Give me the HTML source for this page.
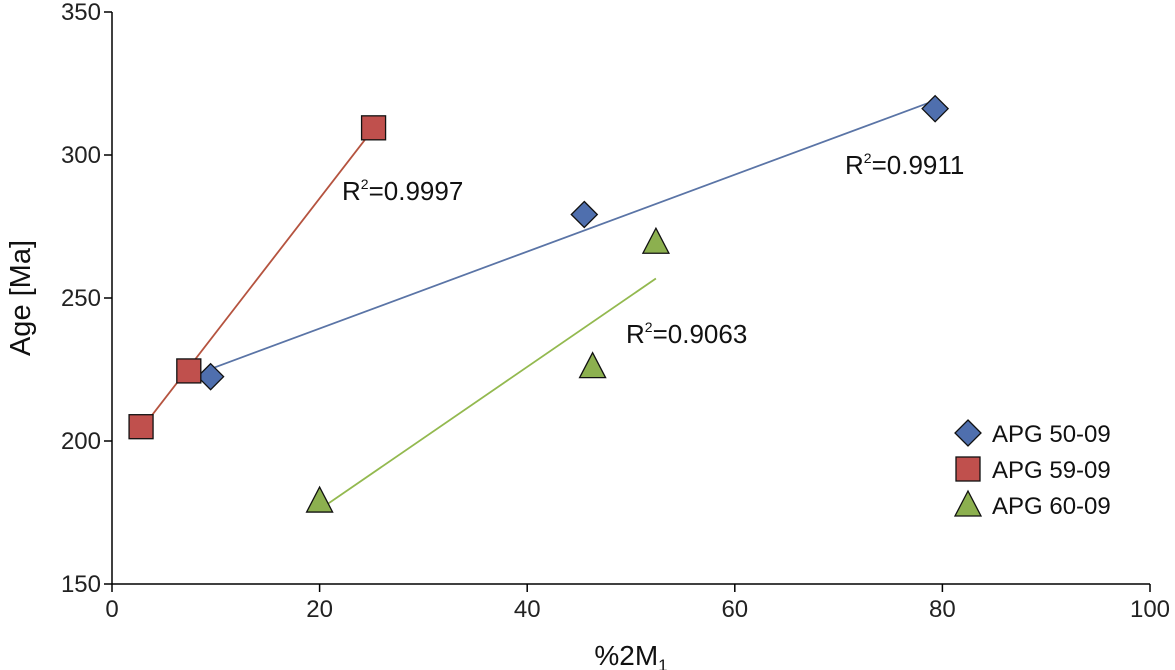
<!DOCTYPE html>
<html><head><meta charset="utf-8"><style>
html,body{margin:0;padding:0;background:#fff;}
svg{display:block;font-family:"Liberation Sans",sans-serif;}
</style></head><body>
<svg id="chart" width="1175" height="670"></svg>
<script>
const xTicks=[0,20,40,60,80,100];
const yTicks=[150,200,250,300,350];
const s1x=[9.5,45.5,79.3], s1y=[222.5,279.2,316.2];
const s2x=[2.8,7.4,25.2], s2y=[205,224.5,309.5];
const s3x=[20,46.3,52.4], s3y=[179,226,269.5];
const r2Labels=["R2=0.9911","R2=0.9997","R2=0.9063"];
const legendNames=["APG 50-09","APG 59-09","APG 60-09"];

const X0=112,X1=1150,Y0=584,Y1=12;
const sx=v=>X0+(v-0)/100*(X1-X0);
const sy=v=>Y0-(v-150)/200*(Y0-Y1);
const svg=document.getElementById('chart');
const NS='http://www.w3.org/2000/svg';
function mk(tag,attrs,parent){const e=document.createElementNS(NS,tag);for(const k in attrs)e.setAttribute(k,attrs[k]);(parent||svg).appendChild(e);return e;}

let e=mk('line',{x1:X0,y1:Y1,x2:X0,y2:Y0,stroke:'#000','stroke-width':1.5});


e=mk('line',{x1:X0,y1:Y0,x2:X1,y2:Y0,stroke:'#000','stroke-width':1.5});


yTicks.forEach(t=>{
 mk('line',{x1:X0-8,y1:sy(t),x2:X0,y2:sy(t),stroke:'#000','stroke-width':1.5});
 const l=mk('text',{x:X0-11,y:sy(t)+8,'text-anchor':'end','font-size':24,fill:'#222'});
 l.textContent=t;
 
 
});
xTicks.forEach(t=>{
 mk('line',{x1:sx(t),y1:Y0,x2:sx(t),y2:Y0+8,stroke:'#000','stroke-width':1.5});
 const l=mk('text',{x:sx(t),y:Y0+33,'text-anchor':'middle','font-size':24,fill:'#222'});
 l.textContent=t;
 
 
});
let yt=mk('text',{x:0,y:0,transform:'translate(30,298) rotate(-90)','text-anchor':'middle','font-size':29,fill:'#111'});
yt.textContent='Age [Ma]';


let xt=mk('text',{x:631,y:665,'text-anchor':'middle','font-size':28,fill:'#111'});
xt.innerHTML='%2M<tspan font-size="17" dy="6">1</tspan>';



function fit(xs,ys){const n=xs.length;const mx=xs.reduce((a,b)=>a+b)/n,my=ys.reduce((a,b)=>a+b)/n;let num=0,den=0;for(let i=0;i<n;i++){num+=(xs[i]-mx)*(ys[i]-my);den+=(xs[i]-mx)**2;}const b=num/den;return [b,my-b*mx];}
const series=[
 {xs:s1x,ys:s1y,fill:'#4f6fae',line:'#5a74a6',shape:'diamond',name:'apg-50-09',lab:[845,174]},
 {xs:s2x,ys:s2y,fill:'#c0504d',line:'#b5533f',shape:'square',name:'apg-59-09',lab:[342,200]},
 {xs:s3x,ys:s3y,fill:'#8cb04f',line:'#93b94f',shape:'triangle',name:'apg-60-09',lab:[626,343]}];
function marker(shape,cx,cy,fill){
 if(shape==='diamond')return mk('polygon',{points:`${cx},${cy-13} ${cx+13},${cy} ${cx},${cy+13} ${cx-13},${cy}`,fill,stroke:'#111','stroke-width':1.3});
 if(shape==='square')return mk('rect',{x:cx-12,y:cy-12,width:24,height:24,fill,stroke:'#111','stroke-width':1.3});
 return mk('polygon',{points:`${cx},${cy-14} ${cx+13},${cy+11} ${cx-13},${cy+11}`,fill,stroke:'#111','stroke-width':1.3});
}
series.forEach((s,i)=>{
 const [b,a]=fit(s.xs,s.ys);const xmin=Math.min(...s.xs),xmax=Math.max(...s.xs);
 const l=mk('line',{x1:sx(xmin),y1:sy(a+b*xmin),x2:sx(xmax),y2:sy(a+b*xmax),stroke:s.line,'stroke-width':1.8});
 
 
});
series.forEach((s,i)=>{
 s.xs.forEach((x,j)=>{
  const m=marker(s.shape,sx(x),sy(s.ys[j]),s.fill);
  
  
 });
 const t=mk('text',{x:s.lab[0],y:s.lab[1],'font-size':26,fill:'#111'});
 t.innerHTML='R<tspan font-size="14" dy="-11">2</tspan><tspan dy="11">'+r2Labels[i].slice(2)+'</tspan>';
 
 
 const ly=433+i*36;
 const lm=marker(s.shape,968,ly,s.fill);
 
 
 const lt=mk('text',{x:992,y:ly+9,'font-size':24,fill:'#111'});
 lt.textContent=legendNames[i];
 
 
});
</script>
</body></html>
